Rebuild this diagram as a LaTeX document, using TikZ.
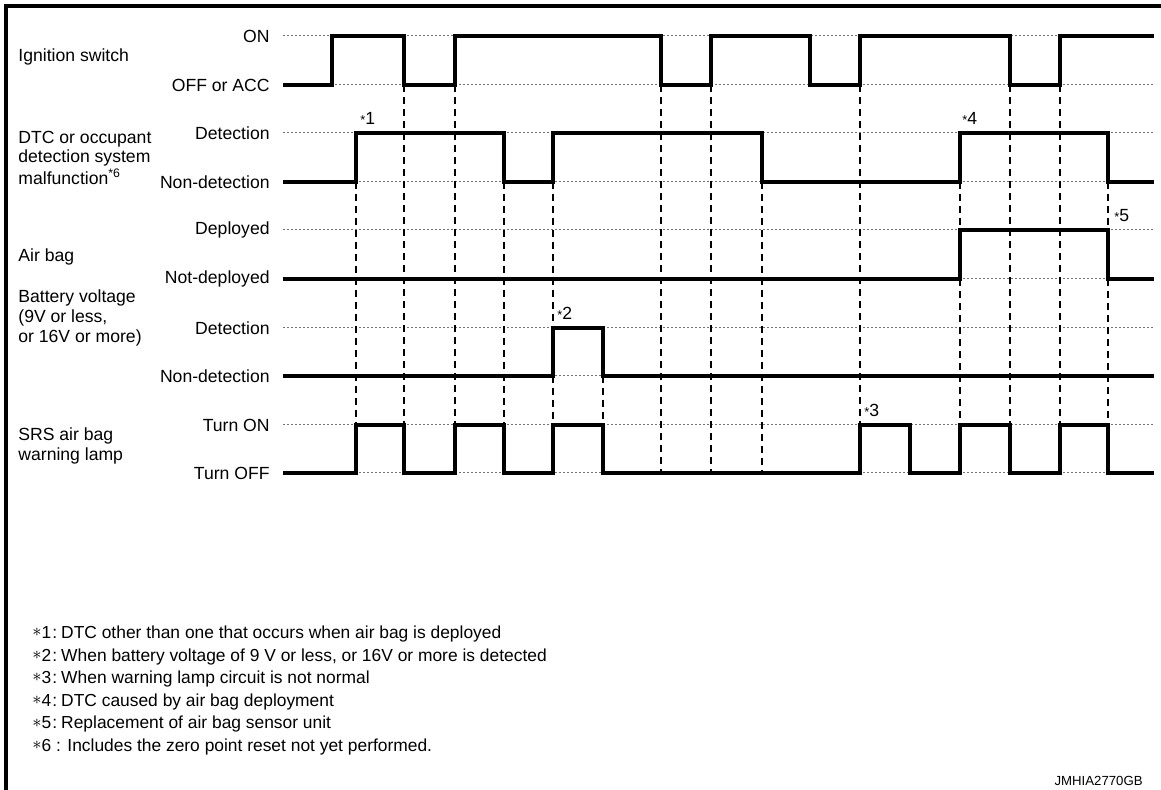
\documentclass[tikz,border=0pt]{standalone}
\usepackage{fontspec}
\setmainfont{Liberation Sans}
\usetikzlibrary{positioning}
\newcommand{\smallstar}{{\fontsize{6.4}{6.4}\selectfont *}}
\newcommand{\fnstar}{\raisebox{0.1em}{$\ast$}}
\newcommand{\fnmark}[1]{\makebox[10pt][l]{\fnstar#1}}

\begin{document}
\begin{tikzpicture}[
    x=0.5pt, y=-0.5pt,
    every node/.style={font=\fontsize{8.8}{9.8}\selectfont, inner sep=0pt},
    lvl/.style={anchor=east},
    signame/.style={anchor=west, align=left},
    note/.style={anchor=base west},
    fnote/.style={anchor=west, font=\fontsize{8.7}{9.8}\selectfont},
    signal/.style={line width=1.6pt},
    refline/.style={black!55, line width=0.5pt, dash pattern=on 1pt off 1pt},
    guide/.style={line width=0.65pt, dash pattern=on 3.5pt off 2.5pt},
    frameline/.style={line width=2pt}
  ]
  \useasboundingbox (0,0) rectangle (1161,790);
  \draw[frameline] (6,790) -- (6,6) -- (1161,6);

  % signal names
  \node[signame] (ign) at (18,57) {Ignition switch};
  \node[signame] (dtc) at (18,158) {DTC or occupant\\detection system\\malfunction\textsuperscript{*6}};
  \node[signame] (bag) at (18,257) {Air bag};
  \node[signame] (bat) at (18,318) {Battery voltage\\(9V or less,\\or 16V or more)};
  \node[signame] (lamp) at (18,446) {SRS air bag\\warning lamp};

  % level names
  \node[lvl] (ignon) at (270,36) {ON};
  \node[lvl] (ignoff) at (270,85) {OFF or ACC};
  \node[lvl] (dtcdet) at (270,133) {Detection};
  \node[lvl] (dtcnon) at (270,182) {Non-detection};
  \node[lvl] (bagdep) at (270,230) {Deployed};
  \node[lvl] (bagnot) at (270,279) {Not-deployed};
  \node[lvl] (batdet) at (270,328) {Detection};
  \node[lvl] (batnon) at (270,376) {Non-detection};
  \node[lvl] (lampon) at (270,425) {Turn ON};
  \node[lvl] (lampoff) at (270,473) {Turn OFF};

  % reference levels
  \draw[refline] (283,36) -- (1154,36);
  \draw[refline] (283,85) -- (1154,85);
  \draw[refline] (283,133) -- (1154,133);
  \draw[refline] (283,182) -- (1154,182);
  \draw[refline] (283,230) -- (1154,230);
  \draw[refline] (283,279) -- (1154,279);
  \draw[refline] (283,328) -- (1154,328);
  \draw[refline] (283,376) -- (1154,376);
  \draw[refline] (283,425) -- (1154,425);
  \draw[refline] (283,473) -- (1154,473);

  % timing guides
  \draw[guide] (356,182) -- (356,425);
  \draw[guide] (404,85) -- (404,425);
  \draw[guide] (455,85) -- (455,425);
  \draw[guide] (504,182) -- (504,425);
  \draw[guide] (553,182) -- (553,328);
  \draw[guide] (553,376) -- (553,425);
  \draw[guide] (603,376) -- (603,425);
  \draw[guide] (661,85) -- (661,473);
  \draw[guide] (711,85) -- (711,473);
  \draw[guide] (762,182) -- (762,473);
  \draw[guide] (860,85) -- (860,425);
  \draw[guide] (960,182) -- (960,230);
  \draw[guide] (960,279) -- (960,425);
  \draw[guide] (1010,85) -- (1010,425);
  \draw[guide] (1060,85) -- (1060,425);
  \draw[guide] (1108,182) -- (1108,230);
  \draw[guide] (1108,279) -- (1108,425);

  % waveforms
  \draw[signal] (283,85) -| (332,36) -| (404,85) -| (455,36) -| (661,85) -| (711,36)
    -| (810,85) -| (860,36) -| (1010,85) -| (1060,36) -- (1154,36);
  \draw[signal] (283,182) -| (356,133) -| (504,182) -| (553,133) -| (762,182)
    -| (960,133) -| (1108,182) -- (1154,182);
  \draw[signal] (283,279) -| (960,230) -| (1108,279) -- (1154,279);
  \draw[signal] (283,376) -| (553,328) -| (603,376) -- (1154,376);
  \draw[signal] (283,473) -| (356,425) -| (404,473) -| (455,425) -| (504,473) -| (553,425)
    -| (603,473) -| (860,425) -| (910,473) -| (960,425) -| (1010,473) -| (1060,425)
    -| (1108,473) -- (1154,473);

  % event marks
  \node[note] (m1) at (360,125) {\smallstar1};
  \node[note] (m2) at (557,320) {\smallstar2};
  \node[note] (m3) at (864,417) {\smallstar3};
  \node[note] (m4) at (962,125) {\smallstar4};
  \node[note] (m5) at (1114,222) {\smallstar5};

  % notes
  \node[fnote] (n1) at (32,634) {\fnmark{1}:\hspace{2pt}DTC other than one that occurs when air bag is deployed};
  \node[fnote] (n2) at (32,656.6) {\fnmark{2}:\hspace{2pt}When battery voltage of 9 V or less, or 16V or more is detected};
  \node[fnote] (n3) at (32,679.2) {\fnmark{3}:\hspace{2pt}When warning lamp circuit is not normal};
  \node[fnote] (n4) at (32,701.8) {\fnmark{4}:\hspace{2pt}DTC caused by air bag deployment};
  \node[fnote] (n5) at (32,724.4) {\fnmark{5}:\hspace{2pt}Replacement of air bag sensor unit};
  \node[fnote] (n6) at (32,747) {\fnstar6 : Includes the zero point reset not yet performed.};
  \node[anchor=east, font=\fontsize{6.6}{7}\selectfont] (code) at (1143,781) {JMHIA2770GB};
\end{tikzpicture}
\end{document}
